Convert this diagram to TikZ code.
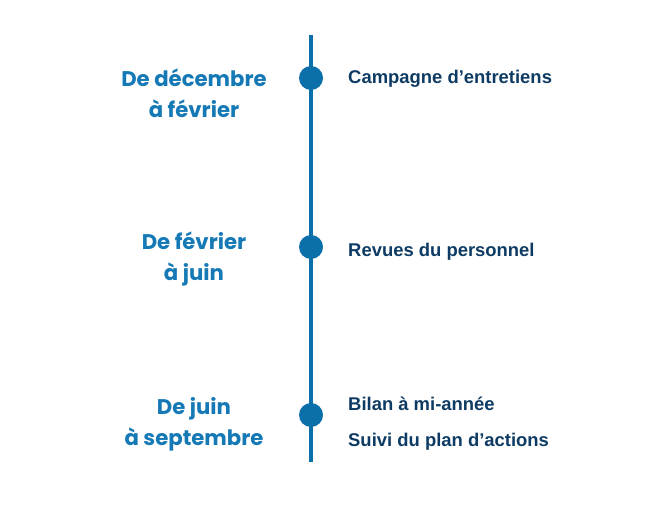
\documentclass[tikz,border=0pt]{standalone}
\usepackage{fontspec}
\setmainfont{Liberation Sans}
\newfontfamily\periodfont{Poppins}
\usepackage{tikz}
\usetikzlibrary{positioning}

\definecolor{lineblue}{HTML}{0B6FAA}
\definecolor{periodblue}{HTML}{1579B5}
\definecolor{stepnavy}{HTML}{0E3B63}

\tikzset{
  period/.style={align=center, text=periodblue, font=\periodfont\bfseries\fontsize{21.3}{31}\selectfont, inner sep=0pt},
  task/.style={anchor=west, text=stepnavy, font=\bfseries\fontsize{18.5}{20}\selectfont, inner sep=0pt},
  milestone/.style={circle, fill=lineblue, minimum size=24bp, inner sep=0pt}
}

\begin{document}
\begin{tikzpicture}[x=1bp,y=-1bp]
  \useasboundingbox (0,0) rectangle (664,512);
  % axe du temps
  \coordinate (top) at (311,35);
  \coordinate (bottom) at (311,462);
  \draw [lineblue, line width=4bp] (top) -- (bottom);

  % jalons
  \node [milestone] (m1) at (311,78) {};
  \node [milestone] (m2) at (311,247) {};
  \node [milestone] (m3) at (311,415) {};

  % periodes
  \node [period] (p1) at (194,93) {De décembre\\à février};
  \node [period] (p2) at (194,259) {De février\\à juin};
  \node [period] (p3) at (194,424) {De juin\\à septembre};

  % actions
  \node [task] (t1) at (348,79) {Campagne d’entretiens};
  \node [task] (t2) at (348,252) {Revues du personnel};
  \node [task] (t3) at (348,404) {Bilan à mi-année};
  \node [task] (t4) at (348,442) {Suivi du plan d’actions};
\end{tikzpicture}
\end{document}
